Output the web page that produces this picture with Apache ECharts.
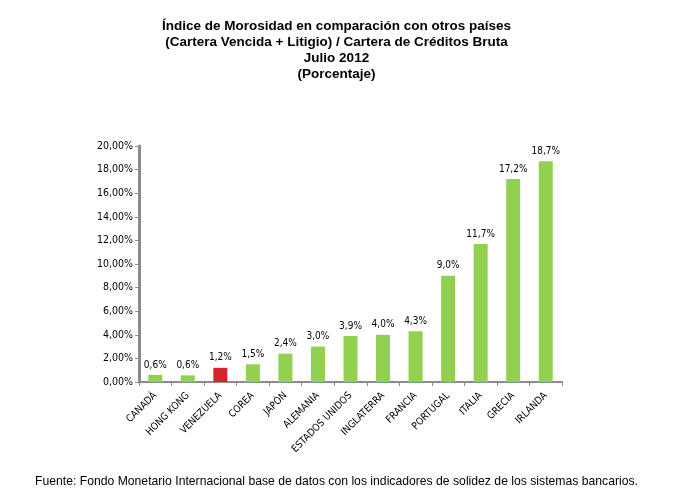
<!DOCTYPE html>
<html>
<head>
<meta charset="utf-8">
<script src="https://cdn.jsdelivr.net/npm/echarts@6/dist/echarts.min.js"></script>
<style>
  html, body { margin: 0; padding: 0; background: #fff; }
  #chart { width: 673px; height: 501px; }
</style>
</head>
<body>
<div id="chart"></div>
<script>
  var countries = ["CANADÁ", "HONG KONG", "VENEZUELA", "COREA", "JAPÓN", "ALEMANIA",
    "ESTADOS UNIDOS", "INGLATERRA", "FRANCIA", "PORTUGAL", "ITALIA", "GRECIA", "IRLANDA"];
  var morosidad = [0.6, 0.56, 1.2, 1.5, 2.4, 3.0, 3.9, 4.0, 4.3, 9.0, 11.7, 17.2, 18.7];
  var highlight = "VENEZUELA";

  var titleLines = [
    "Índice de Morosidad en comparación con otros países",
    "(Cartera Vencida + Litigio) / Cartera de Créditos Bruta",
    "Julio 2012",
    "(Porcentaje)"
  ];
  var fuente = "Fuente: Fondo Monetario Internacional base de datos con los indicadores de solidez de los sistemas bancarios.";

  var chart = echarts.init(document.getElementById("chart"));
  chart.setOption({
    animation: false,
    backgroundColor: "#fff",
    title: [
      {
        text: titleLines.join("\n"),
        left: "center",
        top: 13,
        textStyle: { fontFamily: "Liberation Sans", fontSize: 13.5, fontWeight: "bold", color: "#000", lineHeight: 16 }
      },
      {
        text: fuente,
        left: 30,
        top: 471,
        textStyle: { fontFamily: "Liberation Sans", fontSize: 12.2, fontWeight: "normal", color: "#000" }
      }
    ],
    grid: { left: 139, top: 146, right: 111, bottom: 119 },
    xAxis: {
      type: "category",
      data: countries,
      axisLine: { lineStyle: { color: "#8c8c8c", width: 2 } },
      axisTick: { show: true, length: 4, alignWithLabel: false, lineStyle: { color: "#8c8c8c", width: 1 } },
      axisLabel: {
        interval: 0, rotate: 45, margin: 12,
        fontFamily: "DejaVu Sans Condensed", fontSize: 10, color: "#000"
      }
    },
    yAxis: {
      type: "value",
      min: 0, max: 20, interval: 2,
      axisLine: { show: true, lineStyle: { color: "#8c8c8c", width: 3 } },
      axisTick: { show: true, length: 4, lineStyle: { color: "#8c8c8c" } },
      splitLine: { show: false },
      axisLabel: {
        margin: 6,
        fontFamily: "DejaVu Sans Condensed", fontSize: 10.5, color: "#000",
        formatter: function (v) { return v.toFixed(2).replace(".", ",") + "%"; }
      }
    },
    series: [{
      type: "bar",
      barWidth: 14,
      data: morosidad.map(function (v, i) {
        return {
          value: v,
          itemStyle: { color: countries[i] === highlight ? "#d6242c" : "#92d050" }
        };
      }),
      label: {
        show: true, position: "top", distance: 5,
        fontFamily: "DejaVu Sans Condensed", fontSize: 10, color: "#000",
        formatter: function (p) { return p.value.toFixed(1).replace(".", ",") + "%"; }
      }
    }]
  });
</script>
</body>
</html>
